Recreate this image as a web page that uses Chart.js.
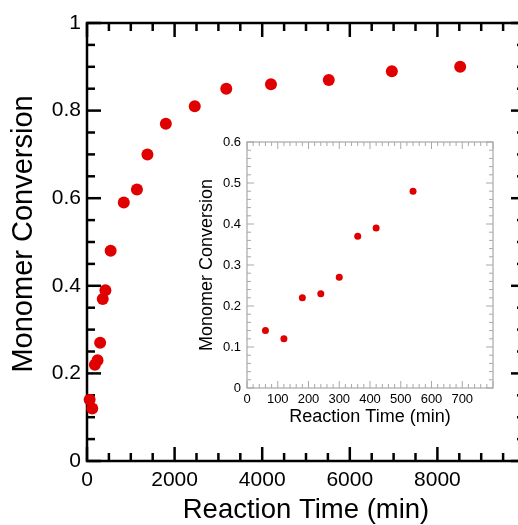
<!DOCTYPE html>
<html><head><meta charset="utf-8">
<script src="https://cdn.jsdelivr.net/npm/chart.js@4"></script>
<style>
html,body{margin:0;padding:0;background:#fff;overflow:hidden;width:518px;height:525px;}
#main{position:absolute;left:0;top:0;}
#inset{position:absolute;left:190px;top:128px;}
</style></head><body>
<canvas id="main" width="540" height="525"></canvas>
<canvas id="inset" width="310" height="302"></canvas>
<script>
// ---- data ----
const mainTime = [60,120,180,240,300,360,420,540,840,1140,1380,1800,2460,3180,4200,5520,6960,8520];
const mainConversion = [0.14,0.12,0.22,0.23,0.27,0.37,0.39,0.48,0.59,0.62,0.70,0.77,0.81,0.85,0.86,0.87,0.89,0.90];
const insetTime = [60,120,180,240,300,360,420,540];
const insetConversion = [0.14,0.12,0.22,0.23,0.27,0.37,0.39,0.48];
const mainXTicks = [0,2000,4000,6000,8000];
const mainYTicks = [0,0.2,0.4,0.6,0.8,1];
const insetXTicks = [0,100,200,300,400,500,600,700];
const insetYTicks = [0,0.1,0.2,0.3,0.4,0.5,0.6];

const FONT = "'Liberation Sans', Arial, sans-serif";
const RED = '#e10000';

const axisFrame = {
  id: 'axisFrame',
  beforeDatasetsDraw(chart, args, o) {
    const {ctx, chartArea: a, scales: {x, y}} = chart;
    ctx.save();
    ctx.strokeStyle = o.color;
    ctx.lineCap = 'butt';
    const line = (x1, y1, x2, y2) => { ctx.beginPath(); ctx.moveTo(x1, y1); ctx.lineTo(x2, y2); ctx.stroke(); };
    ctx.lineWidth = o.tickWidth;
    const nx = Math.round((x.max - x.min) / o.xMinor);
    const xr = Math.round(o.xMajor / o.xMinor);
    for (let i = 0; i <= nx; i++) {
      const px = x.getPixelForValue(x.min + i * o.xMinor);
      const len = (i % xr === 0) ? o.majorLen : o.minorLen;
      line(px, a.bottom, px, a.bottom - len);
      line(px, a.top, px, a.top + len);
    }
    const ny = Math.round((y.max - y.min) / o.yMinor);
    const yr = Math.round(o.yMajor / o.yMinor);
    for (let i = 0; i <= ny; i++) {
      const py = y.getPixelForValue(y.min + i * o.yMinor);
      const len = (i % yr === 0) ? o.majorLen : o.minorLen;
      line(a.left, py, a.left + len, py);
      line(a.right, py, a.right - len, py);
    }
    ctx.lineWidth = o.lineWidth;
    ctx.strokeRect(a.left, a.top, a.right - a.left, a.bottom - a.top);
    ctx.restore();
  }
};

function makeChart(id, cfg) {
  return new Chart(document.getElementById(id), {
    type: 'scatter',
    data: { datasets: [{
      data: cfg.xs.map((v, i) => ({x: v, y: cfg.ys[i]})),
      backgroundColor: RED, borderColor: RED, borderWidth: 0,
      pointRadius: cfg.radius, pointHoverRadius: cfg.radius, clip: false
    }]},
    options: {
      responsive: false, animation: false, devicePixelRatio: 1,
      layout: { padding: cfg.padding },
      plugins: { legend: {display: false}, tooltip: {enabled: false}, axisFrame: cfg.frame },
      scales: {
        x: {
          type: 'linear', min: cfg.xMin, max: cfg.xMax,
          grid: {display: false, drawTicks: false, tickLength: 0}, border: {display: false},
          afterBuildTicks: s => { s.ticks = cfg.xTicks.map(v => ({value: v})); },
          ticks: { callback: v => String(v), font: {family: FONT, size: cfg.tickSize}, color: '#000',
                   padding: cfg.xTickPad, maxRotation: 0, autoSkip: false },
          title: { display: true, text: 'Reaction Time (min)', color: '#000',
                   font: {family: FONT, size: cfg.xTitleSize}, padding: {top: 0, bottom: cfg.xTitlePad} },
          afterFit: s => { s.height = cfg.xHeight; s.paddingLeft = 0; s.paddingRight = 0; }
        },
        y: {
          type: 'linear', min: cfg.yMin, max: cfg.yMax,
          grid: {display: false, drawTicks: false, tickLength: 0}, border: {display: false},
          afterBuildTicks: s => { s.ticks = cfg.yTicks.map(v => ({value: v})); },
          ticks: { callback: v => String(v), font: {family: FONT, size: cfg.tickSize}, color: '#000',
                   padding: cfg.yTickPad, autoSkip: false },
          title: { display: true, text: cfg.yTitle, color: '#000',
                   font: {family: FONT, size: cfg.yTitleSize}, padding: {top: cfg.yTitlePad, bottom: 0} },
          afterFit: s => { s.width = cfg.yWidth; s.paddingTop = 0; s.paddingBottom = 0; }
        }
      }
    },
    plugins: [axisFrame]
  });
}

makeChart('main', {
  xs: mainTime, ys: mainConversion, radius: 6,
  xMin: 0, xMax: 10000, yMin: 0, yMax: 1,
  xTicks: mainXTicks, yTicks: mainYTicks,
  padding: {left: 0, top: 23, right: 15, bottom: 0},
  tickSize: 21, xTitleSize: 27.5, yTitleSize: 29, yTitle: '  Monomer Conversion',
  xTickPad: 7, yTickPad: 6,
  xTitlePad: -2, yTitlePad: 7, xHeight: 64, yWidth: 87,
  frame: {color: '#000', lineWidth: 2.5, tickWidth: 2.5, majorLen: 14, minorLen: 8,
          xMajor: 2000, xMinor: 500, yMajor: 0.2, yMinor: 0.05}
});

makeChart('inset', {
  xs: insetTime, ys: insetConversion, radius: 3.5,
  xMin: 0, xMax: 800, yMin: 0, yMax: 0.6,
  xTicks: insetXTicks, yTicks: insetYTicks,
  padding: {left: 0, top: 14, right: 7, bottom: 0},
  tickSize: 13, xTitleSize: 18, yTitleSize: 18, yTitle: 'Monomer Conversion',
  xTickPad: 4, yTickPad: 6,
  xTitlePad: 2, yTitlePad: 6, xHeight: 42, yWidth: 57,
  frame: {color: '#a8a8a8', lineWidth: 1.2, tickWidth: 1, majorLen: 7, minorLen: 4,
          xMajor: 100, xMinor: 20, yMajor: 0.1, yMinor: 0.02}
});
</script>
</body></html>
